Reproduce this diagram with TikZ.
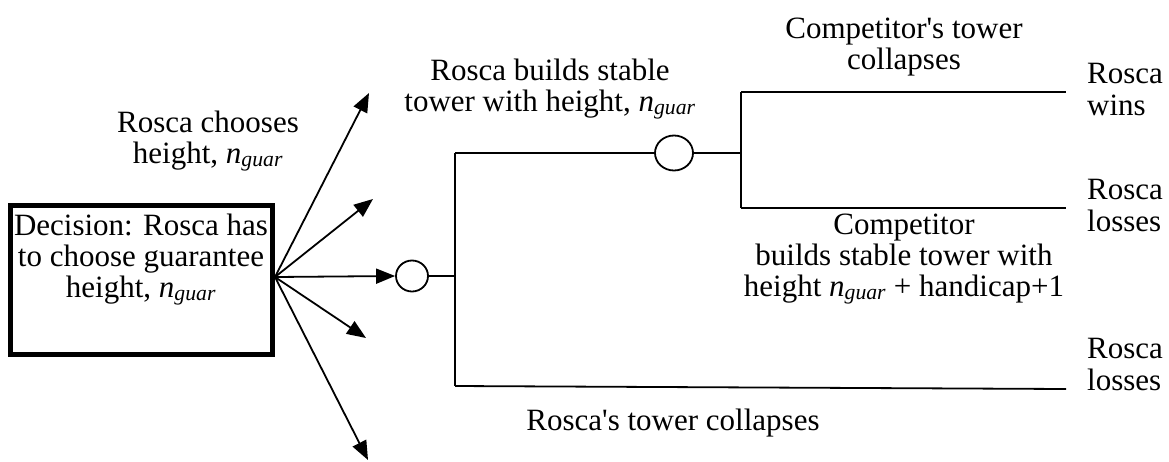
\documentclass[tikz,border=0pt]{standalone}
\usepackage{fontspec}
\setmainfont{Liberation Serif}
\newfontfamily\plainserif{Liberation Serif}
\usetikzlibrary{arrows.meta,shapes.geometric}
\newcommand{\nguarsub}{\textit{n}\textsubscript{\textit{guar}}}
\newcommand{\straightapos}{{\plainserif'}}
\begin{document}
\begin{tikzpicture}[x=1pt,y=-1pt,
  lbl/.style={inner sep=0pt,align=center,font=\fontsize{31}{31}\selectfont},
  outc/.style={inner sep=0pt,align=left,font=\fontsize{31}{32}\selectfont},
  ln/.style={line width=1.8pt},
  arr/.style={line width=1.8pt,-{Triangle[length=19pt,width=15pt]}},
  chance/.style={ellipse,draw,line width=1.8pt,inner sep=0pt}]
\useasboundingbox (0,0) rectangle (1169,461);
% decision box
\node[draw,line width=5pt,minimum width=262pt,minimum height=149pt,inner sep=0pt] (box) at (141.5,280) {};
\node[lbl,anchor=base] (boxtxt) at (141,297) {Decision: Rosca has\\to choose guarantee\\height, \nguarsub};
\coordinate (fan) at (275,277);
\coordinate (a1) at (369,93);
\coordinate (a2) at (373,199);
\coordinate (a4) at (366,338);
\coordinate (a5) at (368,460);
% chance nodes
\node[chance,minimum width=32pt,minimum height=31pt] (c1) at (412,276) {};
\node[chance,minimum width=38pt,minimum height=35pt] (c2) at (674,153) {};
\draw[arr] (fan) -- (a1);
\draw[arr] (fan) -- (a2);
\draw[arr] (fan) -- (c1.west);
\draw[arr] (fan) -- (a4);
\draw[arr] (fan) -- (a5);
% branches
\coordinate (j1) at (455,276);
\coordinate (j1t) at (455,153);
\coordinate (j1b) at (455,386);
\coordinate (j2) at (741,153);
\coordinate (j2t) at (741,92);
\coordinate (j2b) at (741,208);
\coordinate (e1) at (1066,92);
\coordinate (e2) at (1066,208);
\coordinate (e3) at (1066,389);
\draw[ln] (c1.east) -- (j1);
\draw[ln] (j1t) -- (j1b);
\draw[ln] (j1t) -- (c2.west);
\draw[ln] (c2.east) -- (j2);
\draw[ln] (j2t) -- (j2b);
\draw[ln] (j2t) -- (e1);
\draw[ln] (j2b) -- (e2);
\draw[ln] (j1b) -- (e3);
% labels
\node[lbl,anchor=base] (choose) at (208,163) {Rosca chooses\\height, \nguarsub};
\node[lbl,anchor=base] (builds) at (550,111) {Rosca builds stable\\tower with height, \nguarsub};
\node[lbl,anchor=base] (ccoll) at (904,69) {Competitor\straightapos s tower\\collapses};
\node[lbl,anchor=base] (cbuild) at (904,296) {Competitor\\builds stable tower with\\height \nguarsub{} + handicap+1};
\node[lbl,anchor=base] (rcoll) at (673,430) {Rosca\straightapos s tower collapses};
\node[outc,anchor=base west] (w1) at (1087,115) {Rosca\\wins};
\node[outc,anchor=base west] (l1) at (1087,231) {Rosca\\losses};
\node[outc,anchor=base west] (l2) at (1087,390) {Rosca\\losses};
\end{tikzpicture}
\end{document}
